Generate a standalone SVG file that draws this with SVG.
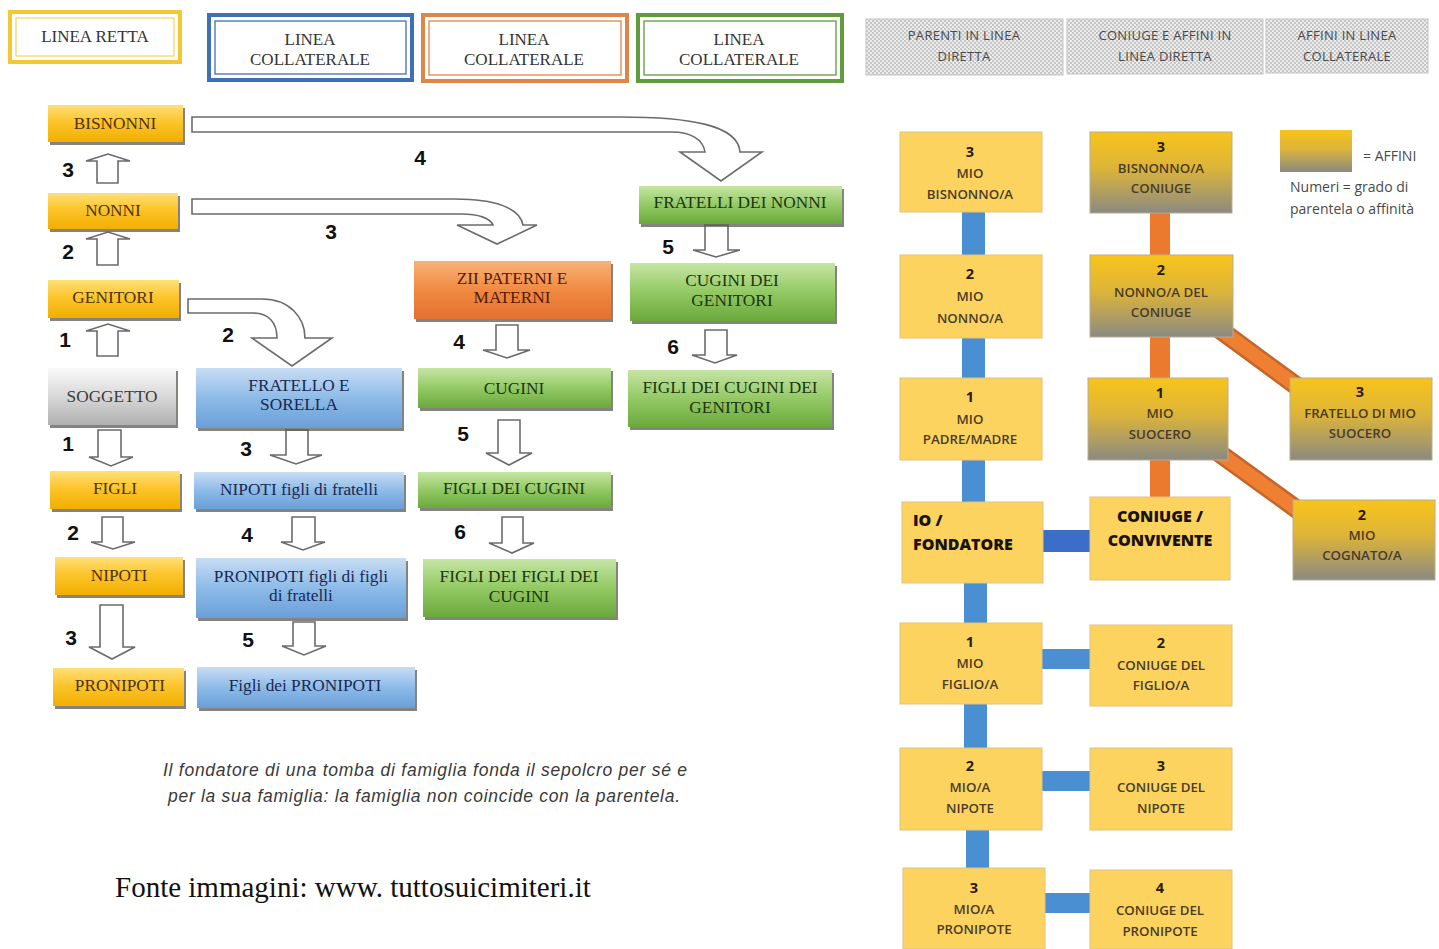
<svg xmlns="http://www.w3.org/2000/svg" width="1439" height="949" viewBox="0 0 1439 949">
<style>
.bg{fill:#ffffff}
.sh{fill:#5b5a52;opacity:.75}
.ser{font-family:"Liberation Serif","Times New Roman",serif;font-size:17.3px;text-anchor:middle}
.leg{font-family:"Liberation Serif","Times New Roman",serif;font-size:17px;text-anchor:middle;fill:#333}
.ty{fill:#4e320e}.tb{fill:#1a2852}.tg{fill:#1b370f}.to{fill:#551a08}.ts{fill:#3c3c3c}
.num{font-family:"Liberation Sans",Arial,sans-serif;font-weight:bold;font-size:21px;text-anchor:middle;fill:#111}
.ha{fill:#fff;stroke:#6b6b6b;stroke-width:1.6;stroke-linejoin:miter}
.rn{font-family:"Open Sans","Liberation Sans",sans-serif;font-size:13.3px;font-weight:600;text-anchor:middle;fill:#4a3c28}
.rd{font-family:"Open Sans","Liberation Sans",sans-serif;font-size:14.5px;font-weight:bold;text-anchor:middle;fill:#2a1a0a}
.rb{font-family:"Open Sans","Liberation Sans",sans-serif;font-size:16px;font-weight:800;fill:#1a1208}
.hd{font-family:"Open Sans","Liberation Sans",sans-serif;font-size:13px;letter-spacing:0.3px;text-anchor:middle;fill:#4a4a4a}
.lg{font-family:"Open Sans","Liberation Sans",sans-serif;font-size:14px;fill:#4a4a4a}
.sol{fill:#fbd35e;stroke:#e2c282;stroke-width:1}
.aff{fill:url(#ga);stroke:#b8ad90;stroke-width:1}
.cb{fill:#4a8fd2}
.co{fill:#ec7a2e}
</style>
<defs>
<linearGradient id="gy" x1="0" y1="0" x2="0" y2="1"><stop offset="0" stop-color="#ffe07a"/><stop offset=".45" stop-color="#fcc52c"/><stop offset="1" stop-color="#f2ae00"/></linearGradient>
<linearGradient id="gb" x1="0" y1="0" x2="0" y2="1"><stop offset="0" stop-color="#c8ddf4"/><stop offset=".5" stop-color="#8dbbe8"/><stop offset="1" stop-color="#6a9fd8"/></linearGradient>
<linearGradient id="gg" x1="0" y1="0" x2="0" y2="1"><stop offset="0" stop-color="#c6e5a4"/><stop offset=".5" stop-color="#93c964"/><stop offset="1" stop-color="#6aa93c"/></linearGradient>
<linearGradient id="go" x1="0" y1="0" x2="0" y2="1"><stop offset="0" stop-color="#f9b27a"/><stop offset=".5" stop-color="#f08a40"/><stop offset="1" stop-color="#e47030"/></linearGradient>
<linearGradient id="gs" x1="0" y1="0" x2="0" y2="1"><stop offset="0" stop-color="#fafafa"/><stop offset=".5" stop-color="#d8d8d8"/><stop offset="1" stop-color="#b0b0b0"/></linearGradient>
<linearGradient id="ga" x1="0" y1="0" x2="0" y2="1"><stop offset="0" stop-color="#f8c41a"/><stop offset=".45" stop-color="#dcb43a"/><stop offset="1" stop-color="#8b8a82"/></linearGradient>
<pattern id="dots" width="4" height="4" patternUnits="userSpaceOnUse"><rect width="4" height="4" fill="#ececec"/><circle cx="1" cy="1" r="0.9" fill="#b4b4b4"/><circle cx="3" cy="3" r="0.9" fill="#b4b4b4"/></pattern>
</defs>
<rect class="bg" x="0" y="0" width="1439" height="949"/>

<!-- legend top-left -->
<g id="leg-retta">
<rect x="10" y="12" width="170" height="50" fill="#fff" stroke="#f2c933" stroke-width="4"/>
<rect x="16" y="18" width="158" height="38" fill="none" stroke="#f2d560" stroke-width="1.2"/>
<text class="leg" x="95" y="42">LINEA RETTA</text>
</g>
<g id="leg-coll-blue">
<rect x="209" y="15" width="203" height="65" fill="#fff" stroke="#3f6fb6" stroke-width="4"/>
<rect x="215" y="21" width="191" height="53" fill="none" stroke="#3f6fb6" stroke-width="1.3"/>
<text class="leg" x="310" y="45">LINEA</text><text class="leg" x="310" y="65">COLLATERALE</text>
</g>
<g id="leg-coll-orange">
<rect x="423" y="15" width="204" height="66" fill="#fff" stroke="#e08548" stroke-width="4"/>
<rect x="429" y="21" width="192" height="54" fill="none" stroke="#e08548" stroke-width="1.3"/>
<text class="leg" x="524" y="45">LINEA</text><text class="leg" x="524" y="65">COLLATERALE</text>
</g>
<g id="leg-coll-green">
<rect x="638" y="15" width="204" height="66" fill="#fff" stroke="#5f9c3c" stroke-width="4"/>
<rect x="644" y="21" width="192" height="54" fill="none" stroke="#5f9c3c" stroke-width="1.3"/>
<text class="leg" x="739" y="45">LINEA</text><text class="leg" x="739" y="65">COLLATERALE</text>
</g>

<!-- legend top-right -->
<g id="hd-parenti"><rect x="866" y="19" width="197" height="56" fill="url(#dots)" stroke="#c4c4c4"/><text class="hd" x="964" y="40">PARENTI IN LINEA</text><text class="hd" x="964" y="61">DIRETTA</text></g>
<g id="hd-coniuge"><rect x="1067" y="19" width="196" height="55" fill="url(#dots)" stroke="#c4c4c4"/><text class="hd" x="1165" y="40">CONIUGE E AFFINI IN</text><text class="hd" x="1165" y="61">LINEA DIRETTA</text></g>
<g id="hd-affini"><rect x="1266" y="19" width="162" height="54" fill="url(#dots)" stroke="#c4c4c4"/><text class="hd" x="1347" y="40">AFFINI IN LINEA</text><text class="hd" x="1347" y="61">COLLATERALE</text></g>

<g id="leg-affini">
<rect x="1280" y="130" width="72" height="42" fill="url(#ga)"/>
<text class="lg" x="1363" y="161" font-size="13px">= AFFINI</text>
<text class="lg" x="1290" y="192">Numeri = grado di</text>
<text class="lg" x="1290" y="214">parentela o affinità</text>
</g>

<!-- connectors -->
<g id="connectors">
<path class="ha" d="M192,117 L620,117 C690,117 738,125 740,152 L762,152 L721,181 L680,152 L705,152 C703,139 690,132 672,132 L192,132 Z"/>
<path class="ha" d="M192,199 L455,199 C495,199 520,208 523,225 L537,225 L497,244 L457,225 L493,225 C490,218 478,214 462,214 L192,214 Z"/>
<path class="ha" d="M188,299 L262,299 C290,299 305,318 305,338 L332,338 L292,366 L252,338 L277,338 C277,322 268,313 253,313 L188,313 Z"/>
<path class="ha" d="M97,183 L97,161 L86,161 L108,154 L130,161 L118,161 L118,183 Z"/>
<path class="ha" d="M97,265 L97,239 L86,239 L108,232 L130,239 L118,239 L118,265 Z"/>
<path class="ha" d="M97,356 L97,331 L86,331 L108,324 L130,331 L118,331 L118,356 Z"/>
<path class="ha" d="M98,430 L121,430 L121,457 L133,457 L111,466 L89,457 L98,457 Z"/>
<path class="ha" d="M102,517 L123,517 L123,542 L135,542 L113,549 L91,542 L102,542 Z"/>
<path class="ha" d="M100,605 L123,605 L123,647 L135,647 L112,659 L89,647 L100,647 Z"/>
<path class="ha" d="M286,430 L308,430 L308,455 L322,455 L296,464 L270,455 L286,455 Z"/>
<path class="ha" d="M292,517 L315,517 L315,542 L325,542 L303,550 L281,542 L292,542 Z"/>
<path class="ha" d="M293,622 L315,622 L315,646 L326,646 L304,655 L282,646 L293,646 Z"/>
<path class="ha" d="M496,325 L518,325 L518,350 L530,350 L507,358 L483,350 L496,350 Z"/>
<path class="ha" d="M498,420 L520,420 L520,453 L532,453 L509,465 L486,453 L498,453 Z"/>
<path class="ha" d="M502,517 L523,517 L523,543 L534,543 L512,553 L489,543 L502,543 Z"/>
<path class="ha" d="M705,225 L728,225 L728,250 L740,250 L716,257 L693,250 L705,250 Z"/>
<path class="ha" d="M705,330 L727,330 L727,355 L737,355 L715,363 L692,355 L705,355 Z"/>

<rect class="cb" x="962" y="211" width="23" height="45"/>
<rect class="cb" x="962" y="337" width="23" height="42"/>
<rect class="cb" x="962" y="459" width="23" height="44"/>
<rect class="cb" x="964" y="582" width="23" height="42"/>
<rect class="cb" x="964" y="703" width="23" height="46"/>
<rect class="cb" x="966" y="829" width="23" height="40"/>
<rect class="co" x="1150" y="212" width="20" height="44"/>
<rect class="co" x="1150" y="336" width="20" height="43"/>
<rect class="co" x="1150" y="459" width="20" height="39"/>
<line x1="1215" y1="326" x2="1302" y2="390" stroke="#c4662a" stroke-width="19"/>
<line x1="1215" y1="326" x2="1302" y2="390" stroke="#ef7f32" stroke-width="14"/>
<line x1="1215" y1="450" x2="1302" y2="513" stroke="#c4662a" stroke-width="19"/>
<line x1="1215" y1="450" x2="1302" y2="513" stroke="#ef7f32" stroke-width="14"/>
<rect x="1042" y="530" width="49" height="22" fill="#3a6ec8"/>
<rect class="cb" x="1042" y="649" width="48" height="20"/>
<rect class="cb" x="1042" y="771" width="48" height="20"/>
<rect class="cb" x="1044" y="893" width="46" height="20"/>
</g>

<!-- left column -->
<g id="n-bisnonni"><rect class="sh" x="50" y="108" width="135" height="37"/><rect x="48" y="105" width="135" height="37" fill="url(#gy)"/><text class="ser ty" x="115" y="129">BISNONNI</text></g>
<g id="n-nonni"><rect class="sh" x="50" y="196" width="130" height="36"/><rect x="48" y="193" width="130" height="36" fill="url(#gy)"/><text class="ser ty" x="113" y="216">NONNI</text></g>
<g id="n-genitori"><rect class="sh" x="50" y="283" width="131" height="38"/><rect x="48" y="280" width="131" height="38" fill="url(#gy)"/><text class="ser ty" x="113" y="303">GENITORI</text></g>
<g id="n-soggetto"><rect class="sh" x="50" y="371" width="128" height="57"/><rect x="48" y="368" width="128" height="57" fill="url(#gs)"/><text class="ser ts" x="112" y="402">SOGGETTO</text></g>
<g id="n-figli"><rect class="sh" x="52" y="474" width="130" height="38"/><rect x="50" y="471" width="130" height="38" fill="url(#gy)"/><text class="ser ty" x="115" y="494">FIGLI</text></g>
<g id="n-nipoti"><rect class="sh" x="57" y="560" width="128" height="38"/><rect x="55" y="557" width="128" height="38" fill="url(#gy)"/><text class="ser ty" x="119" y="581">NIPOTI</text></g>
<g id="n-pronipoti"><rect class="sh" x="55" y="671" width="131" height="38"/><rect x="53" y="668" width="131" height="38" fill="url(#gy)"/><text class="ser ty" x="120" y="691">PRONIPOTI</text></g>

<!-- blue column -->
<g id="n-fratello"><rect class="sh" x="198" y="371" width="206" height="60"/><rect x="196" y="368" width="206" height="60" fill="url(#gb)"/><text class="ser tb" x="299" y="391">FRATELLO E</text><text class="ser tb" x="299" y="410">SORELLA</text></g>
<g id="n-nipoti-fr"><rect class="sh" x="196" y="475" width="210" height="37"/><rect x="194" y="472" width="210" height="37" fill="url(#gb)"/><text class="ser tb" x="299" y="495">NIPOTI figli di fratelli</text></g>
<g id="n-pronipoti-fr"><rect class="sh" x="198" y="561" width="210" height="60"/><rect x="196" y="558" width="210" height="60" fill="url(#gb)"/><text class="ser tb" x="301" y="582">PRONIPOTI figli di figli</text><text class="ser tb" x="301" y="601">di fratelli</text></g>
<g id="n-figli-pron"><rect class="sh" x="199" y="670" width="218" height="41"/><rect x="197" y="667" width="218" height="41" fill="url(#gb)"/><text class="ser tb" x="305" y="691">Figli dei PRONIPOTI</text></g>

<!-- orange/green middle -->
<g id="n-zii"><rect class="sh" x="416" y="264" width="197" height="58"/><rect x="414" y="261" width="197" height="58" fill="url(#go)"/><text class="ser to" x="512" y="284">ZII PATERNI E</text><text class="ser to" x="512" y="303">MATERNI</text></g>
<g id="n-cugini"><rect class="sh" x="420" y="371" width="193" height="40"/><rect x="418" y="368" width="193" height="40" fill="url(#gg)"/><text class="ser tg" x="514" y="394">CUGINI</text></g>
<g id="n-figli-cug"><rect class="sh" x="420" y="475" width="193" height="36"/><rect x="418" y="472" width="193" height="36" fill="url(#gg)"/><text class="ser tg" x="514" y="494">FIGLI DEI CUGINI</text></g>
<g id="n-figli-figli-cug"><rect class="sh" x="425" y="562" width="193" height="58"/><rect x="423" y="559" width="193" height="58" fill="url(#gg)"/><text class="ser tg" x="519" y="582">FIGLI DEI FIGLI DEI</text><text class="ser tg" x="519" y="602">CUGINI</text></g>

<!-- green right -->
<g id="n-fratelli-nonni"><rect class="sh" x="641" y="189" width="203" height="38"/><rect x="639" y="186" width="203" height="38" fill="url(#gg)"/><text class="ser tg" x="740" y="208">FRATELLI DEI NONNI</text></g>
<g id="n-cugini-gen"><rect class="sh" x="632" y="266" width="205" height="58"/><rect x="630" y="263" width="205" height="58" fill="url(#gg)"/><text class="ser tg" x="732" y="286">CUGINI DEI</text><text class="ser tg" x="732" y="306">GENITORI</text></g>
<g id="n-figli-cug-gen"><rect class="sh" x="630" y="373" width="204" height="57"/><rect x="628" y="370" width="204" height="57" fill="url(#gg)"/><text class="ser tg" x="730" y="393">FIGLI DEI CUGINI DEI</text><text class="ser tg" x="730" y="413">GENITORI</text></g>

<!-- numbers -->
<g id="degree-labels">
<text class="num" x="68" y="177">3</text>
<text class="num" x="68" y="259">2</text>
<text class="num" x="65" y="347">1</text>
<text class="num" x="68" y="451">1</text>
<text class="num" x="73" y="540">2</text>
<text class="num" x="71" y="645">3</text>
<text class="num" x="420" y="165">4</text>
<text class="num" x="331" y="239">3</text>
<text class="num" x="228" y="342">2</text>
<text class="num" x="246" y="456">3</text>
<text class="num" x="247" y="542">4</text>
<text class="num" x="248" y="647">5</text>
<text class="num" x="459" y="349">4</text>
<text class="num" x="463" y="441">5</text>
<text class="num" x="460" y="539">6</text>
<text class="num" x="668" y="254">5</text>
<text class="num" x="673" y="354">6</text>
</g>

<!-- right diagram nodes -->
<g id="r-bisnonno"><rect class="sol" x="900" y="132" width="142" height="80"/><text class="rd" x="970" y="157">3</text><text class="rn" x="970" y="178">MIO</text><text class="rn" x="970" y="199">BISNONNO/A</text></g>
<g id="r-nonno"><rect class="sol" x="900" y="255" width="142" height="83"/><text class="rd" x="970" y="279">2</text><text class="rn" x="970" y="301">MIO</text><text class="rn" x="970" y="323">NONNO/A</text></g>
<g id="r-padre"><rect class="sol" x="900" y="378" width="142" height="82"/><text class="rd" x="970" y="402">1</text><text class="rn" x="970" y="424">MIO</text><text class="rn" x="970" y="444">PADRE/MADRE</text></g>
<g id="r-io"><rect class="sol" x="902" y="502" width="141" height="81"/><text class="rb" x="913" y="526">IO /</text><text class="rb" x="913" y="550">FONDATORE</text></g>
<g id="r-figlio"><rect class="sol" x="900" y="623" width="142" height="81"/><text class="rd" x="970" y="647">1</text><text class="rn" x="970" y="668">MIO</text><text class="rn" x="970" y="689">FIGLIO/A</text></g>
<g id="r-nipote"><rect class="sol" x="900" y="748" width="142" height="82"/><text class="rd" x="970" y="771">2</text><text class="rn" x="970" y="792">MIO/A</text><text class="rn" x="970" y="813">NIPOTE</text></g>
<g id="r-pronipote"><rect class="sol" x="903" y="868" width="142" height="81"/><text class="rd" x="974" y="893">3</text><text class="rn" x="974" y="914">MIO/A</text><text class="rn" x="974" y="934">PRONIPOTE</text></g>

<g id="r-bisnonno-con"><rect class="aff" x="1090" y="132" width="142" height="81"/><text class="rd" x="1161" y="152">3</text><text class="rn" x="1161" y="173">BISNONNO/A</text><text class="rn" x="1161" y="193">CONIUGE</text></g>
<g id="r-nonno-con"><rect class="aff" x="1090" y="255" width="143" height="82"/><text class="rd" x="1161" y="275">2</text><text class="rn" x="1161" y="297">NONNO/A DEL</text><text class="rn" x="1161" y="317">CONIUGE</text></g>
<g id="r-suocero"><rect class="aff" x="1088" y="378" width="140" height="82"/><text class="rd" x="1160" y="398">1</text><text class="rn" x="1160" y="418">MIO</text><text class="rn" x="1160" y="439">SUOCERO</text></g>
<g id="r-coniuge"><rect class="sol" x="1090" y="497" width="140" height="83"/><text class="rb" x="1160" y="522" text-anchor="middle">CONIUGE /</text><text class="rb" x="1160" y="546" text-anchor="middle">CONVIVENTE</text></g>
<g id="r-con-figlio"><rect class="sol" x="1090" y="625" width="142" height="81"/><text class="rd" x="1161" y="648">2</text><text class="rn" x="1161" y="670">CONIUGE DEL</text><text class="rn" x="1161" y="690">FIGLIO/A</text></g>
<g id="r-con-nipote"><rect class="sol" x="1090" y="748" width="142" height="82"/><text class="rd" x="1161" y="771">3</text><text class="rn" x="1161" y="792">CONIUGE DEL</text><text class="rn" x="1161" y="813">NIPOTE</text></g>
<g id="r-con-pronipote"><rect class="sol" x="1090" y="870" width="142" height="79"/><text class="rd" x="1160" y="893">4</text><text class="rn" x="1160" y="915">CONIUGE DEL</text><text class="rn" x="1160" y="936">PRONIPOTE</text></g>

<g id="r-fratello-suocero"><rect class="aff" x="1290" y="378" width="142" height="82"/><text class="rd" x="1360" y="397">3</text><text class="rn" x="1360" y="418">FRATELLO DI MIO</text><text class="rn" x="1360" y="438">SUOCERO</text></g>
<g id="r-cognato"><rect class="aff" x="1293" y="500" width="142" height="80"/><text class="rd" x="1362" y="520">2</text><text class="rn" x="1362" y="540">MIO</text><text class="rn" x="1362" y="560">COGNATO/A</text></g>

<!-- notes -->
<g id="note">
<text x="425" y="776" text-anchor="middle" font-family="'Liberation Sans',Arial,sans-serif" font-style="italic" font-size="17.5px" textLength="524" lengthAdjust="spacing" fill="#3a3a3a">Il fondatore di una tomba di famiglia fonda il sepolcro per sé e</text>
<text x="424" y="802" text-anchor="middle" font-family="'Liberation Sans',Arial,sans-serif" font-style="italic" font-size="17.5px" textLength="512" lengthAdjust="spacing" fill="#3a3a3a">per la sua famiglia: la famiglia non coincide con la parentela.</text>
<text x="115" y="897" font-family="'Liberation Serif','Times New Roman',serif" font-size="29px" fill="#111">Fonte immagini: www. tuttosuicimiteri.it</text>
</g>
</svg>
